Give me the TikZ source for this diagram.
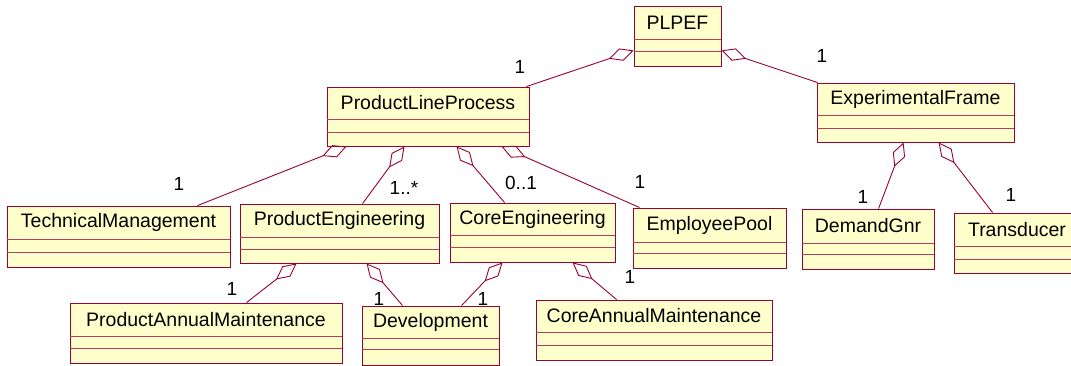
\documentclass[tikz,border=0pt]{standalone}
\usepackage{fontspec}
\setmainfont{Liberation Sans}
\usetikzlibrary{arrows.meta,fit,calc}

\definecolor{umlfill}{RGB}{255,255,204}
\definecolor{umlline}{RGB}{153,0,51}
\definecolor{umlsep}{RGB}{185,60,95}

\tikzset{
  classbox/.style={draw=umlline, fill=umlfill, line width=0.9pt, inner sep=0pt, rectangle},
  classshadow/.style={draw=umlline, line width=1.7pt},
  compline/.style={draw=umlsep, line width=0.9pt},
  classname/.style={font=\fontsize{19.5}{22}\selectfont, inner sep=0pt, text=black},
  mult/.style={font=\fontsize{19}{22}\selectfont, inner sep=0pt, text=black},
  aggr/.style={draw=umlline, line width=0.9pt, -{Diamond[open, length=26pt, width=13pt]}},
}

% \umlclass{name}{left}{top}{right}{bottom}{1st divider}{2nd divider}{class name}
\newcommand\umlclass[8]{%
  \coordinate (#1-nw) at (#2,#3);
  \coordinate (#1-se) at (#4,#5);
  \node[classbox, fit=(#1-nw)(#1-se)] (#1) {};
  \draw[compline] (#2,#6) -- (#4,#6);
  \draw[compline] (#2,#7) -- (#4,#7);
  \draw[classshadow] (#1.north east) -- (#1.south east) -- (#1.south west);
  \node[classname] (#1-label) at ({(#2+#4)/2},{(#3+#6)/2}) {#8};
}

\begin{document}
\begin{tikzpicture}[x=1pt,y=-1pt]
\useasboundingbox[fill=white] (0,0) rectangle (1071,366);

% classes
\umlclass{plpef}{634}{6}{721}{66}{39}{51}{PLPEF}
\umlclass{plp}{327}{87}{529}{146}{119}{132}{ProductLineProcess}
\umlclass{ef}{817}{83}{1014}{142}{115}{128}{ExperimentalFrame}
\umlclass{tm}{7}{206}{230}{267}{239}{252}{TechnicalManagement}
\umlclass{pe}{240}{204}{439}{263}{237}{249}{ProductEngineering}
\umlclass{ce}{450}{203}{615}{262}{235}{247}{CoreEngineering}
\umlclass{ep}{633}{208}{786}{268}{242}{253}{EmployeePool}
\umlclass{dg}{802}{209}{934}{269}{243}{254}{DemandGnr}
\umlclass{tr}{954}{213}{1080}{273}{246}{259}{Transducer}
\umlclass{pam}{70}{303}{342}{363}{336}{348}{ProductAnnualMaintenance}
\umlclass{dev}{362}{306}{499}{365}{338}{349}{Development}
\umlclass{cam}{536}{300}{772}{360}{332}{345}{CoreAnnualMaintenance}

% aggregations (diamond at the whole)
\draw[aggr] ([xshift=-3pt]plp.north east) -- ([yshift=16pt]plpef.south west);
\draw[aggr] ([xshift=1pt]ef.north west) -- ([yshift=16pt]plpef.south east);
\draw[aggr] ([xshift=191pt]tm.north west) -- ([xshift=20pt]plp.south west);
\draw[aggr] ([xshift=123pt]pe.north west) -- ([xshift=78pt]plp.south west);
\draw[aggr] ([xshift=55pt]ce.north west) -- ([xshift=130pt]plp.south west);
\draw[aggr] ([xshift=7pt]ep.north west) -- ([xshift=175pt]plp.south west);
\draw[aggr] ([xshift=77pt]dg.north west) -- ([xshift=87pt]ef.south west);
\draw[aggr] ([xshift=39pt]tr.north west) -- ([xshift=122pt]ef.south west);
\draw[aggr] ([xshift=177pt]pam.north west) -- ([xshift=57pt]pe.south west);
\draw[aggr] ([xshift=41pt]dev.north west) -- ([xshift=127pt]pe.south west);
\draw[aggr] ([xshift=100pt]dev.north west) -- ([xshift=53pt]ce.south west);
\draw[aggr] ([xshift=81pt]cam.north west) -- ([xshift=123pt]ce.south west);

% multiplicities
\node[mult] (m-plp) at (520,67) {1};
\node[mult] (m-ef) at (822,56) {1};
\node[mult] (m-tm) at (179,184) {1};
\node[mult] (m-pe) at (404,188) {1..*};
\node[mult] (m-ce) at (521,183) {0..1};
\node[mult] (m-ep) at (640,182) {1};
\node[mult] (m-dg) at (863,197) {1};
\node[mult] (m-tr) at (1011,195) {1};
\node[mult] (m-pam) at (232,289) {1};
\node[mult] (m-dev1) at (379,299) {1};
\node[mult] (m-dev2) at (483,299) {1};
\node[mult] (m-cam) at (630,277) {1};
\end{tikzpicture}
\end{document}
